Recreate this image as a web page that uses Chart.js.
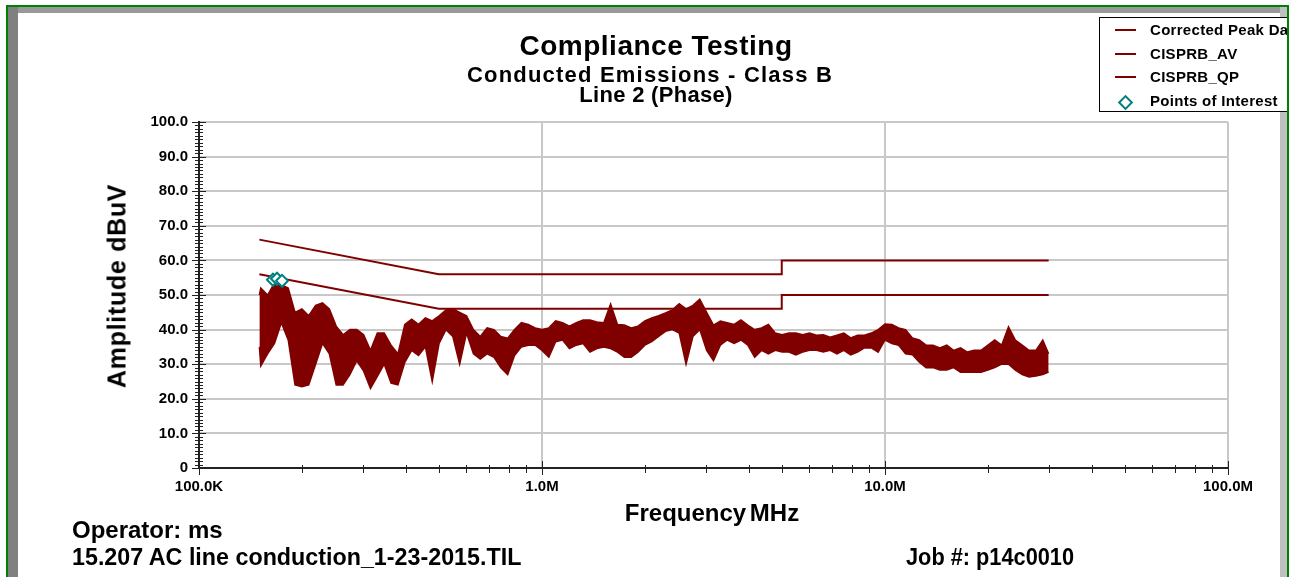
<!DOCTYPE html>
<html>
<head>
<meta charset="utf-8">
<title>Compliance Testing</title>
<script src="https://cdn.jsdelivr.net/npm/chart.js@4.4.1/dist/chart.umd.min.js"></script>
<style>
    html, body { margin: 0; padding: 0; background: #fff; }
    body {
        width: 1303px; height: 577px; position: relative; overflow: hidden;
        font-family: "Liberation Sans", Arial, sans-serif; font-weight: bold; color: #000;
    }
    #graphic { position: absolute; left: 0; top: 0; z-index: 0; }
    .txt { position: absolute; white-space: nowrap; line-height: 1; z-index: 1; }
    .center { transform: translateX(-50%); }

    /* panel frame */
    .band { position: absolute; z-index: 1; }
    #bandTop { left: 7px; top: 7px; width: 1281px; height: 6px; background: #999; }
    #bandLeft { left: 7px; top: 7px; width: 11px; height: 580px; background: #808080; }
    #bandRight { left: 1280px; top: 7px; width: 8px; height: 580px; background: #c0c0c0; }
    #greenBorder {
        position: absolute; left: 6px; top: 5px; width: 1279px; height: 620px;
        border: 2px solid #008000; z-index: 3;
    }

    /* legend */
    #legendClip { position: absolute; left: 0; top: 0; width: 1288px; height: 577px; overflow: hidden; z-index: 2; pointer-events: none; }
    #legend {
        position: absolute; left: 1099px; top: 17px; width: 260px; height: 93px;
        border: 1px solid #000; background: #fff;
    }
    .legendRow { position: absolute; left: 0; height: 16px; font-size: 15px; line-height: 16px; white-space: nowrap; }
    .legendRow span.label { position: absolute; left: 50px; top: 0; letter-spacing: 0.3px; }
    .swatchLine { position: absolute; left: 15px; top: 7px; width: 21px; height: 2px; background: #800000; }
    .swatchDiamond {
        position: absolute; left: 20px; top: 4px; width: 7px; height: 7px;
        border: 2px solid #008080; background: #fff; transform: rotate(45deg);
    }
</style>
</head>
<body>

<canvas id="graphic" width="1303" height="577"></canvas>

<div class="band" id="bandTop"></div>
<div class="band" id="bandLeft"></div>
<div class="band" id="bandRight"></div>

<div class="txt center" style="left:656px; top:32px; font-size:28px; letter-spacing:0.5px;">Compliance Testing</div>
<div class="txt center" style="left:650px; top:64px; font-size:22px; letter-spacing:1.2px;">Conducted Emissions - Class B</div>
<div class="txt center" style="left:656px; top:84px; font-size:22px; letter-spacing:0.3px;">Line 2 (Phase)</div>

<div class="txt" style="left:117px; top:286px; font-size:25px; letter-spacing:0.7px; transform: translate(-50%, -50%) rotate(-90deg);">Amplitude dBuV</div>
<div class="txt center" style="left:712px; top:501px; font-size:24px; word-spacing:-3px;">Frequency MHz</div>

<div class="txt" style="left:72px; top:518px; font-size:24px;">Operator: ms</div>
<div class="txt" style="left:72px; top:545px; font-size:24px; transform-origin: left center; transform: scaleX(0.97);">15.207 AC line conduction_1-23-2015.TIL</div>
<div class="txt" style="left:906px; top:545px; font-size:24px; transform-origin: left center; transform: scaleX(0.906);">Job #: p14c0010</div>

<div id="legendClip">
    <div id="legend">
        <div class="legendRow" style="top:4px;"><div class="swatchLine"></div><span class="label">Corrected Peak Data</span></div>
        <div class="legendRow" style="top:28px;"><div class="swatchLine"></div><span class="label">CISPRB_AV</span></div>
        <div class="legendRow" style="top:51px;"><div class="swatchLine"></div><span class="label">CISPRB_QP</span></div>
        <div class="legendRow" style="top:75px;"><div class="swatchDiamond"></div><span class="label">Points of Interest</span></div>
    </div>
</div>
<div id="greenBorder"></div>

<script>
const freqMHz = [
    0.15, 0.1514, 0.1585, 0.166, 0.1738, 0.182, 0.1905, 0.1995, 0.2089, 0.2188,
    0.2291, 0.2399, 0.2512, 0.263, 0.2754, 0.2884, 0.302, 0.3162, 0.3311, 0.3467,
    0.3631, 0.3802, 0.3981, 0.4169, 0.4365, 0.4571, 0.4786, 0.5012, 0.5248, 0.5495,
    0.5754, 0.6026, 0.631, 0.6607, 0.6918, 0.7244, 0.7586, 0.7943, 0.8318, 0.871,
    0.912, 0.955, 1.0, 1.047, 1.096, 1.148, 1.202, 1.259, 1.318, 1.38,
    1.445, 1.514, 1.585, 1.66, 1.738, 1.82, 1.905, 1.995, 2.089, 2.188,
    2.291, 2.399, 2.512, 2.63, 2.754, 2.884, 3.02, 3.162, 3.311, 3.467,
    3.631, 3.802, 3.981, 4.169, 4.365, 4.571, 4.786, 5.012, 5.248, 5.495,
    5.754, 6.026, 6.31, 6.607, 6.918, 7.244, 7.586, 7.943, 8.318, 8.71,
    9.12, 9.55, 10.0, 10.47, 10.96, 11.48, 12.02, 12.59, 13.18, 13.8,
    14.45, 15.14, 15.85, 16.6, 17.38, 18.2, 19.05, 19.95, 20.89, 21.88,
    22.91, 23.99, 25.12, 26.3, 27.54, 28.84, 30
];
const peakHigh = [
    50, 52, 50, 53.5, 53, 52, 45, 46, 44, 47,
    47.7, 46, 41, 38.5, 40, 40, 38.5, 34, 39, 39,
    35.5, 33, 41.5, 43, 41.5, 43.4, 42.5, 44, 45.7, 46,
    45, 44, 40, 38, 40.5, 40, 38, 37.5, 40, 42,
    41.5, 40.5, 40, 40.5, 42.5, 42, 41, 42, 42.8, 42.8,
    42.2, 42, 47.4, 41.5, 41.3, 40.5, 41, 42.5, 43.4, 44,
    44.8, 45.7, 47.5, 46, 47, 48.8, 45, 41.3, 42.5, 42,
    41.5, 42.8, 41.3, 40, 40.5, 41.5, 39, 38.5, 39, 39,
    38.5, 39, 38.4, 38.5, 37.8, 38.4, 39, 37.6, 38.4, 38.4,
    39, 40, 41.6, 41.5, 40.5, 40, 37.6, 37, 35.5, 35.5,
    34.7, 35.5, 34, 34.7, 33.5, 34, 34, 35.5, 37, 35.5,
    40.8, 37, 35.5, 34, 34, 37, 33
];
const peakLow = [
    35, 29.5, 33, 36, 42, 37, 24, 23.5, 24, 30,
    36, 33, 24, 24, 27, 31, 28, 23, 26.5, 30,
    24.5, 24, 30.5, 34, 32.5, 35, 25, 36, 40, 38,
    30, 39, 33, 31.5, 33, 32, 29, 27, 32.5, 35,
    35.5, 35.5, 34, 32, 36.5, 37, 34.5, 35.5, 36, 33.5,
    34.5, 35, 34.5, 33.5, 32, 32, 33.5, 35.5, 36.5, 38,
    39.5, 40, 39, 30, 38, 40, 34, 31, 35.5, 37,
    36, 37, 35.5, 32, 34, 33, 34, 33.5, 33.5, 32.7,
    33.5, 34, 34, 33.5, 34, 33, 34, 32.7, 33.5, 34.7,
    34.7, 33.5, 37, 36, 35.5, 33, 32.7, 30.6, 29, 29,
    28.3, 28.3, 29, 27.7, 27.7, 27.7, 27.7, 28.3, 29, 30,
    30, 28.3, 27, 26.3, 26.6, 27, 27.7
];

// CISPR 22 class B limits
const limitFreq = [0.15, 0.5, 5, 5, 30];
const qpLimit = [66, 56, 56, 60, 60];
const avLimit = [56, 46, 46, 50, 50];

// Points of interest
const poiFreq = [0.1643, 0.1688, 0.1746];
const poiAmp = [54.4, 54.7, 54.1];

// Axis ticks
const xTickValues = [0.1, 1, 10, 100];
const xTickLabels = ['100.0K', '1.0M', '10.0M', '100.0M'];
const yTickValues = [0, 10, 20, 30, 40, 50, 60, 70, 80, 90, 100];

const darkRed = '#800000';
const toPoints = (xs, ys) => xs.map((x, i) => ({ x: x, y: ys[i] }));

// little tick marks crossing both axes
const axisTicks = {
    id: 'axisTicks',
    afterDraw(chart) {
        const ctx = chart.ctx;
        const xs = chart.scales.x;
        const ys = chart.scales.y;
        const ax = ys.right;
        const ay = xs.top;
        ctx.save();
        ctx.strokeStyle = '#222';
        ctx.lineWidth = 1;
        ctx.beginPath();
        for (let v = 0; v <= 100; v++) {
            const py = Math.round(ys.getPixelForValue(v)) + 0.5;
            const half = v % 10 === 0 ? 7 : 4;
            ctx.moveTo(ax - half, py);
            ctx.lineTo(ax + half, py);
        }
        for (let d of [0.1, 1, 10]) {
            for (let m = 1; m <= 10; m++) {
                const px = Math.round(xs.getPixelForValue(m * d)) + 0.5;
                const major = m === 1 || m === 10;
                ctx.moveTo(px, ay - (major ? 7 : 3));
                ctx.lineTo(px, ay + (major ? 7 : 5));
            }
        }
        ctx.stroke();
        ctx.restore();
    }
};

Chart.defaults.font.family = '"Liberation Sans", Arial, sans-serif';

const graphicElement = document.getElementById('graphic');

const graphic = new Chart(graphicElement, {
    type: 'line',
    data: {
        datasets: [
            {
                label: 'Points of Interest',
                data: toPoints(poiFreq, poiAmp),
                showLine: false,
                pointStyle: 'rectRot',
                pointRadius: 6,
                pointBorderWidth: 2,
                pointBorderColor: '#008080',
                pointBackgroundColor: '#ffffff',
            },
            {
                label: 'CISPRB_QP',
                data: toPoints(limitFreq, qpLimit),
                borderColor: darkRed,
                borderWidth: 2,
                pointRadius: 0,
                fill: false,
            },
            {
                label: 'CISPRB_AV',
                data: toPoints(limitFreq, avLimit),
                borderColor: darkRed,
                borderWidth: 2,
                pointRadius: 0,
                fill: false,
            },
            {
                label: 'Corrected Peak Data',
                data: toPoints(freqMHz, peakHigh),
                borderColor: darkRed,
                backgroundColor: darkRed,
                borderWidth: 1.5,
                pointRadius: 0,
                fill: 4,
            },
            {
                label: 'Corrected Peak Data (low)',
                data: toPoints(freqMHz, peakLow),
                borderColor: darkRed,
                borderWidth: 1.5,
                pointRadius: 0,
                fill: false,
            },
        ],
    },
    options: {
        responsive: false,
        animation: false,
        layout: { padding: { top: 122, right: 75, bottom: 0, left: 0 } },
        plugins: {
            legend: { display: false },
            title: { display: false },
            tooltip: { enabled: false },
        },
        scales: {
            x: {
                type: 'logarithmic',
                min: 0.1,
                max: 100,
                afterFit: (scale) => { scale.height = 109; },
                afterBuildTicks: (scale) => { scale.ticks = xTickValues.map(v => ({ value: v })); },
                ticks: {
                    autoSkip: false,
                    maxRotation: 0,
                    padding: 10,
                    color: '#000',
                    font: { size: 15, weight: 'bold' },
                    callback: (value, index) => xTickLabels[index],
                },
                grid: { color: '#c8c8c8', lineWidth: 2, drawTicks: false },
                border: { color: '#222', width: 2 },
            },
            y: {
                min: 0,
                max: 100,
                afterFit: (scale) => { scale.width = 199; },
                afterBuildTicks: (scale) => { scale.ticks = yTickValues.map(v => ({ value: v })); },
                ticks: {
                    padding: 11,
                    color: '#000',
                    font: { size: 15, weight: 'bold' },
                    callback: (value) => value === 0 ? '0' : value.toFixed(1),
                },
                grid: { color: '#c8c8c8', lineWidth: 2, drawTicks: false },
                border: { color: '#222', width: 2 },
            },
        },
    },
    plugins: [axisTicks],
});
</script>
</body>
</html>
